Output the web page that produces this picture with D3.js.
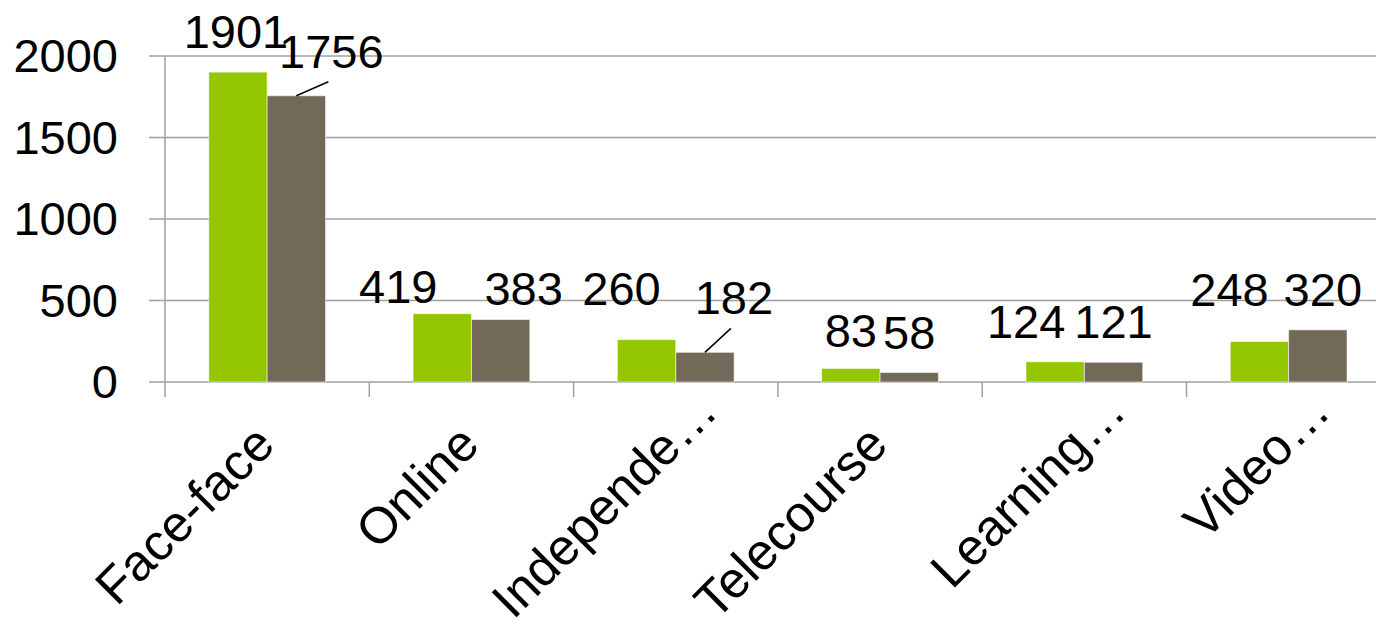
<!DOCTYPE html>
<html>
<head>
<meta charset="utf-8">
<script src="https://cdn.jsdelivr.net/npm/d3@7"></script>
<style>
  html, body { margin: 0; padding: 0; background: #fff; }
  svg { display: block; font-family: "Liberation Sans", Arial, sans-serif; }
  .grid line, .axis line { stroke: #a0a0a0; stroke-width: 1.5; }
  .label { font-size: 47px; fill: #000; }
  .cat { font-size: 51px; }
</style>
</head>
<body>
<svg width="1376" height="629"></svg>
<script>
const categories = ['Face-face', 'Online', 'Independe\u2026', 'Telecourse', 'Learning\u2026', 'Video\u2026'];
const series = ['A', 'B'];
const seriesA = [1901, 419, 260, 83, 124, 248];
const seriesB = [1756, 383, 182, 58, 121, 320];
const yTicks = [0, 500, 1000, 1500, 2000];
const colors = ['#94c600', '#736959'];

// manual nudges of the data labels, [dx, dy, leader line]
const labelNudgeA = [[-2, 0, false], [-44, 13, false], [-25, -11, false], [0, 3, false], [-29, 0, false], [-30, -12, false]];
const labelNudgeB = [[35, -4, true], [23, 9, false], [29, -14, true], [0, 0, false], [0, 0, false], [5, 0, false]];
// where the rotated category labels end, relative to the band centre
const catLabelEnd = [[10, 447], [10, 447], [44, 414], [10, 447], [44, 414], [44, 414]];

const svg = d3.select('svg');
const plotLeft = 165, plotTop = 56, plotBottom = 382;
const step = 204.3;

const x0 = d3.scaleBand()
  .domain(categories)
  .range([plotLeft, plotLeft + step * categories.length]);

const x1 = d3.scaleBand()
  .domain(series)
  .range([0, x0.bandwidth()])
  .paddingOuter(0.75);

const y = d3.scaleLinear()
  .domain([0, 2000])
  .range([plotBottom, plotTop]);

// gridlines
svg.append('g')
  .attr('class', 'grid')
  .selectAll('line')
  .data(yTicks)
  .enter().append('line')
    .attr('x1', plotLeft - 16)
    .attr('x2', 1376)
    .attr('y1', d => y(d))
    .attr('y2', d => y(d));

// y axis line and category ticks
const axis = svg.append('g').attr('class', 'axis');
axis.append('line')
  .attr('x1', plotLeft).attr('x2', plotLeft)
  .attr('y1', y(2000)).attr('y2', plotBottom);

axis.selectAll('.tick')
  .data(categories.concat(['__end']))
  .enter().append('line')
    .attr('class', 'tick')
    .attr('x1', (d, i) => plotLeft + i * x0.step())
    .attr('x2', (d, i) => plotLeft + i * x0.step())
    .attr('y1', plotBottom)
    .attr('y2', plotBottom + 15);

// y tick labels
svg.append('g')
  .selectAll('text')
  .data(yTicks)
  .enter().append('text')
    .attr('class', 'label')
    .attr('x', 118)
    .attr('y', d => y(d) + 16)
    .attr('text-anchor', 'end')
    .text(d => d);

// bars
const rows = categories.map((c, i) => ({ cat: c, i, values: [seriesA[i], seriesB[i]] }));

const group = svg.append('g')
  .selectAll('g')
  .data(rows)
  .enter().append('g')
    .attr('transform', d => `translate(${x0(d.cat)},0)`);

group.selectAll('rect')
  .data(d => d.values.map((v, k) => ({ key: series[k], v, k })))
  .enter().append('rect')
    .attr('x', d => x1(d.key))
    .attr('y', d => y(d.v))
    .attr('width', x1.bandwidth())
    .attr('height', d => y(0) - y(d.v))
    .attr('fill', d => colors[d.k])
    .attr('stroke', 'rgba(255,255,255,0.55)')
    .attr('stroke-width', 1);

// data labels
const nudges = [labelNudgeA, labelNudgeB];
rows.forEach(r => {
  r.values.forEach((v, k) => {
    const cx = x0(r.cat) + x1(series[k]) + x1.bandwidth() / 2;
    const [dx, dy, leader] = nudges[k][r.i];
    const lx = cx + dx;
    const ly = y(v) - 24 + dy;
    if (leader) {
      svg.append('line')
        .attr('x1', cx).attr('y1', y(v))
        .attr('x2', lx - 3).attr('y2', ly + 14)
        .attr('stroke', '#000')
        .attr('stroke-width', 1.5);
    }
    svg.append('text')
      .attr('class', 'label')
      .attr('x', lx)
      .attr('y', ly)
      .attr('text-anchor', 'middle')
      .text(v);
  });
});

// rotated category labels
svg.append('g')
  .selectAll('text')
  .data(categories)
  .enter().append('text')
    .attr('class', 'label cat')
    .attr('text-anchor', 'end')
    .attr('transform', (d, i) => {
      const ex = x0(d) + x0.bandwidth() / 2 + catLabelEnd[i][0];
      const ey = catLabelEnd[i][1];
      return `translate(${ex},${ey}) rotate(-45)`;
    })
    .text(d => d);
</script>
</body>
</html>
